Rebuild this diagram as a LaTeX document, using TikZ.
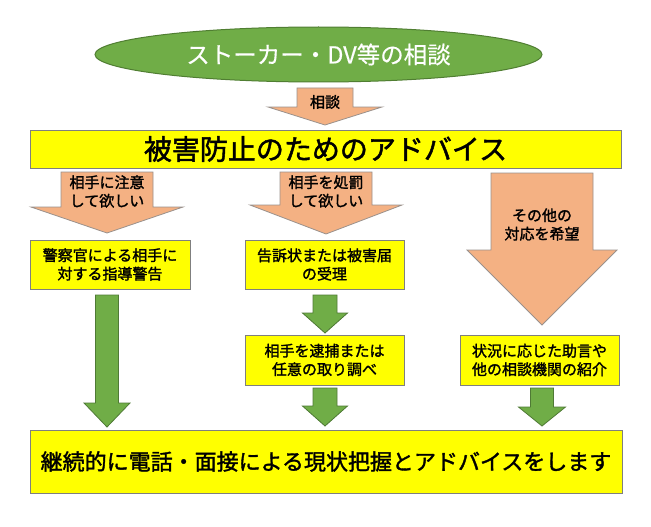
\documentclass[tikz,border=0pt]{standalone}
\usepackage{fontspec}
\newfontfamily\jp{Noto Sans CJK JP}[FakeBold=0.4]
\newfontfamily\jpb{Noto Sans CJK JP}[FakeBold=1.6]
\usetikzlibrary{shapes.geometric}
\definecolor{ellfill}{HTML}{70AD47}
\definecolor{elldraw}{HTML}{507E32}
\definecolor{orfill}{HTML}{F4B183}
\definecolor{ordraw}{HTML}{9A918C}
\definecolor{yfill}{HTML}{FFFF00}
\definecolor{ydraw}{HTML}{7F7F7F}
\definecolor{gfill}{HTML}{70AD47}
\definecolor{gdraw}{HTML}{4F7A35}
% block arrow: #1 style, #2 cx, #3 ytop, #4 yhead, #5 ytip, #6 body half width, #7 head half width
\newcommand\blockarrow[7]{%
  \draw[#1] (#2-#6,#3) -- (#2+#6,#3) -- (#2+#6,#4) -- (#2+#7,#4) -- (#2,#5)
    -- (#2-#7,#4) -- (#2-#6,#4) -- cycle;}
\tikzset{
  orarrow/.style={fill=orfill, draw=ordraw, line width=0.8pt, line join=miter},
  grarrow/.style={fill=gfill, draw=gdraw, line width=0.8pt, line join=miter},
  ybox/.style={rectangle, fill=yfill, draw=ydraw, line width=1pt, inner sep=0pt, align=center},
  smalltxt/.style={align=center, inner sep=0pt, font=\jpb\fontsize{15}{18.5}\selectfont},
}
\begin{document}
\begin{tikzpicture}[x=1pt,y=-1pt]
\useasboundingbox[fill=white] (0,0) rectangle (651,527);

% top ellipse
\node[ellipse, fill=ellfill, draw=elldraw, line width=1pt, minimum width=447pt, minimum height=55pt, inner sep=0pt,
  text=white, font=\jp\fontsize{23.5}{26}\selectfont] (e) at (318.5,54.5) {ストーカー・DV等の相談};

% consult arrow
\blockarrow{orarrow}{325}{88}{107}{125}{28}{57}
\node[smalltxt] (tc) at (325,102) {相談};

% main yellow box
\node[ybox, minimum width=591pt, minimum height=38pt, font=\jpb\fontsize{28}{32}\selectfont] (a) at (325.5,149) {被害防止のためのアドバイス};

% three orange arrows
\blockarrow{orarrow}{107}{172}{207}{233}{46}{76}
\node[smalltxt] (t1) at (107,191.5) {相手に注意\\して欲しい};
\blockarrow{orarrow}{326}{172}{205}{234}{46}{76}
\node[smalltxt] (t2) at (326,191.5) {相手を処罰\\して欲しい};
\blockarrow{orarrow}{542}{173}{250}{325}{51}{75}
\node[smalltxt] (t3) at (542,224.5) {その他の\\対応を希望};

% boxes
\node[ybox, minimum width=160pt, minimum height=49pt, font=\jpb\fontsize{15}{18.5}\selectfont] (b1) at (110,264.5) {警察官による相手に\\対する指導警告};
\node[ybox, minimum width=159pt, minimum height=49pt, font=\jpb\fontsize{15}{18.5}\selectfont] (b2) at (324.5,264.5) {告訴状または被害届\\の受理};
\node[ybox, minimum width=159pt, minimum height=50pt, font=\jpb\fontsize{15}{18.5}\selectfont] (b3) at (324.5,360) {相手を逮捕または\\任意の取り調べ};
\node[ybox, minimum width=159pt, minimum height=50pt, font=\jpb\fontsize{15}{18.5}\selectfont] (b4) at (539.5,360) {状況に応じた助言や\\他の相談機関の紹介};

% bottom box
\node[ybox, minimum width=592pt, minimum height=63pt, font=\jpb\fontsize{22}{26}\selectfont] (b5) at (326,461.5) {継続的に電話・面接による現状把握とアドバイスをします};

% green arrows
\blockarrow{grarrow}{107}{295}{403}{427}{11.5}{23}
\blockarrow{grarrow}{325}{295}{313}{333}{12}{22.5}
\blockarrow{grarrow}{325}{388}{406}{426}{12}{22.5}
\blockarrow{grarrow}{542}{388}{407}{426}{11.5}{23.5}
\end{tikzpicture}
\end{document}
